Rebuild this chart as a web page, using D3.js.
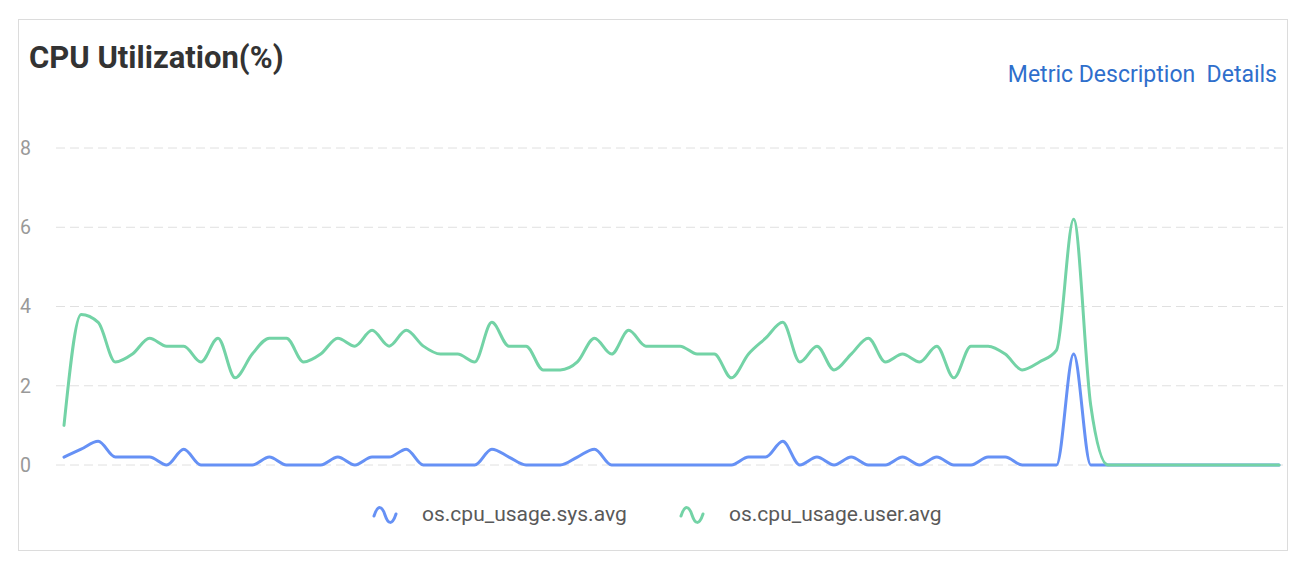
<!DOCTYPE html>
<html>
<head>
<meta charset="utf-8">
<script src="https://cdn.jsdelivr.net/npm/d3@7"></script>
<style>
  html, body { margin: 0; padding: 0; background: #fff; }
  svg { display: block; }
</style>
</head>
<body>
<svg id="chart" width="1300" height="566"></svg>
<script>
const title = "CPU Utilization(%)";
const links = ["Metric Description", "Details"];
const seriesNames = ["os.cpu_usage.sys.avg", "os.cpu_usage.user.avg"];
const yTicks = [0, 2, 4, 6, 8];

// 72 samples (index 0..71)
const sysValues = [
  0.2, 0.4, 0.6, 0.2, 0.2, 0.2, 0, 0.4, 0, 0,
  0, 0, 0.2, 0, 0, 0, 0.2, 0, 0.2, 0.2,
  0.4, 0, 0, 0, 0, 0.4, 0.2, 0, 0, 0,
  0.2, 0.4, 0, 0, 0, 0, 0, 0, 0, 0,
  0.2, 0.2, 0.6, 0, 0.2, 0, 0.2, 0, 0, 0.2,
  0, 0.2, 0, 0, 0.2, 0.2, 0, 0, 0, 2.8,
  0, 0, 0, 0, 0, 0, 0, 0, 0, 0,
  0, 0
];
const userValues = [
  1.0, 3.8, 3.6, 2.6, 2.8, 3.2, 3.0, 3.0, 2.6, 3.2,
  2.2, 2.8, 3.2, 3.2, 2.6, 2.8, 3.2, 3.0, 3.4, 3.0,
  3.4, 3.0, 2.8, 2.8, 2.6, 3.6, 3.0, 3.0, 2.4, 2.4,
  2.6, 3.2, 2.8, 3.4, 3.0, 3.0, 3.0, 2.8, 2.8, 2.2,
  2.8, 3.2, 3.6, 2.6, 3.0, 2.4, 2.8, 3.2, 2.6, 2.8,
  2.6, 3.0, 2.2, 3.0, 3.0, 2.8, 2.4, 2.6, 2.9, 6.2,
  1.5, 0, 0, 0, 0, 0, 0, 0, 0, 0,
  0, 0
];

const colors = ["#6691f5", "#73d3a6"];
const series = [sysValues, userValues];

const svg = d3.select("#chart");

// card
svg.append("rect")
  .attr("x", 18.5).attr("y", 19.5)
  .attr("width", 1269).attr("height", 531)
  .attr("fill", "#fff").attr("stroke", "#dcdcdc").attr("stroke-width", 1);

// title
svg.append("text")
  .attr("x", 29).attr("y", 68)
  .attr("font-family", "Roboto, 'Open Sans', sans-serif")
  .attr("font-size", 31).attr("font-weight", 700)
  .attr("fill", "#333")
  .text(title);

// links (right aligned)
svg.append("text")
  .attr("x", 1277).attr("y", 82)
  .attr("text-anchor", "end")
  .attr("font-family", "Roboto, 'Open Sans', sans-serif")
  .attr("font-size", 23)
  .attr("fill", "#2f6fcc")
  .text(links[0] + "\u00a0\u00a0" + links[1]);

const x = d3.scaleLinear().domain([0, sysValues.length - 1]).range([64, 1279]);
const y = d3.scaleLinear().domain([0, 8]).range([465, 148]);

// grid
const grid = svg.append("g");
grid.selectAll("line").data(yTicks).join("line")
  .attr("x1", 56).attr("x2", 1286)
  .attr("y1", d => y(d)).attr("y2", d => y(d))
  .attr("stroke", "#e0e0e0").attr("stroke-width", 1)
  .attr("stroke-dasharray", "9,5");

// y axis labels
const yAxis = d3.axisLeft(y).tickValues(yTicks).tickSize(0).tickPadding(0).tickFormat(d3.format("d"));
const ga = svg.append("g").attr("transform", "translate(20,0)").call(yAxis);
ga.select(".domain").remove();
ga.selectAll("text")
  .attr("text-anchor", "start")
  .attr("x", 0)
  .attr("font-family", "Roboto, sans-serif")
  .attr("font-size", 19.5)
  .attr("fill", "#999");

// lines
const line = d3.line()
  .x((d, i) => x(i))
  .y(d => y(d))
  .curve(d3.curveMonotoneX);

series.forEach((vals, k) => {
  svg.append("path")
    .datum(vals)
    .attr("d", line)
    .attr("fill", "none")
    .attr("stroke", colors[k])
    .attr("stroke-width", 3)
    .attr("stroke-linejoin", "round")
    .attr("stroke-linecap", "round");
});

// legend
const legendX = [373, 680];
const lg = svg.append("g");
seriesNames.forEach((name, k) => {
  const g = lg.append("g").attr("transform", `translate(${legendX[k]},515)`);
  g.append("path")
    .attr("d", "M1,1 C5,-11 9,-9 12,0 C15,9 19,11 23,-1")
    .attr("fill", "none")
    .attr("stroke", colors[k])
    .attr("stroke-width", 3)
    .attr("stroke-linecap", "round");
  g.append("text")
    .attr("x", 49).attr("y", 6)
    .attr("font-family", "Roboto, sans-serif")
    .attr("font-size", 21)
    .attr("fill", "#595959")
    .text(name);
});
</script>
</body>
</html>
